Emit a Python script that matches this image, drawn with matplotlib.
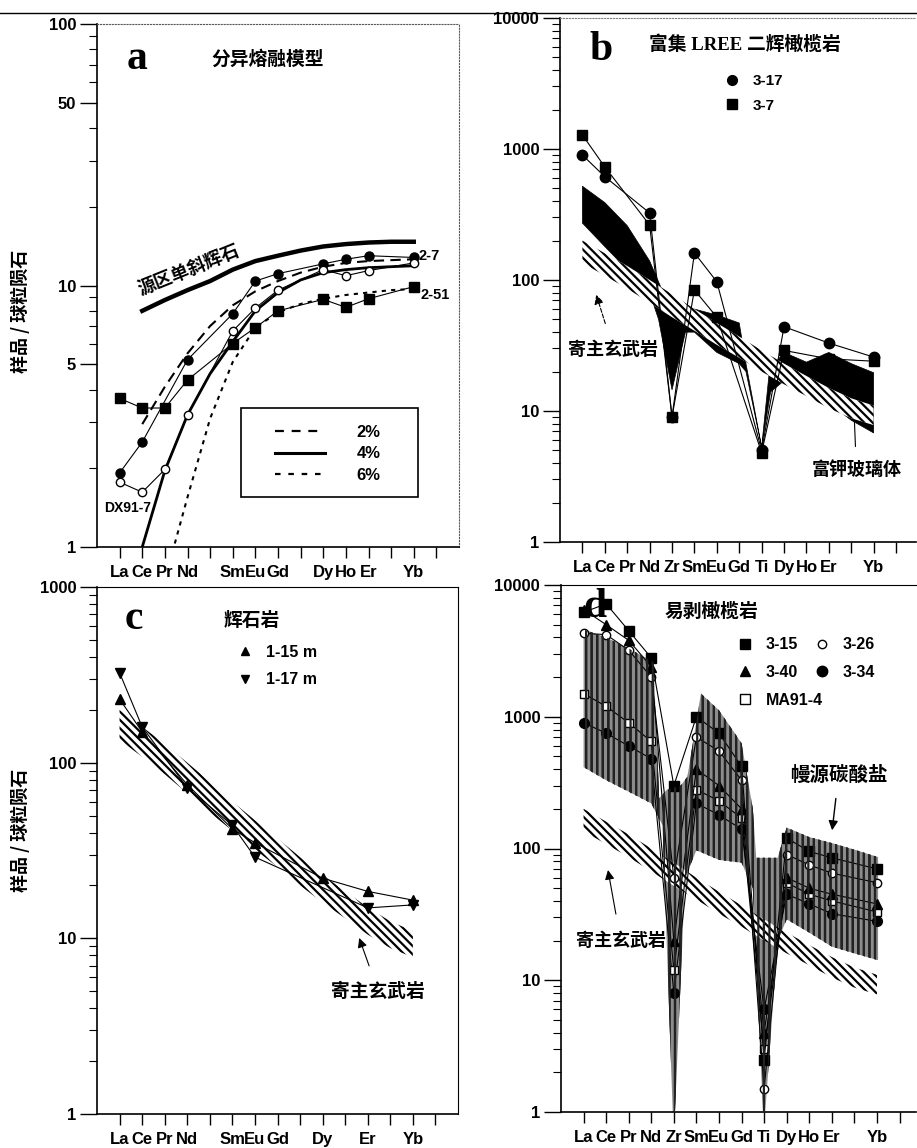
import matplotlib.pyplot as plt
from matplotlib.lines import Line2D
from matplotlib.patches import Rectangle
from matplotlib.ticker import NullFormatter

plt.rcParams['font.family'] = ['Liberation Sans', 'Noto Sans CJK SC', 'DejaVu Sans']
plt.rcParams['font.weight'] = 'bold'
plt.rcParams['hatch.linewidth'] = 1.6
plt.rcParams['hatch.color'] = 'black'

CJK = ['Noto Sans CJK SC', 'DejaVu Sans']
SERIF = ['Liberation Serif', 'Noto Sans CJK SC', 'DejaVu Serif']

# x axis order (one slot per element)
rees = ['La', 'Ce', 'Pr', 'Nd', 'Pm', 'Sm', 'Eu', 'Gd', 'Tb', 'Dy', 'Ho', 'Er', 'Tm', 'Yb', 'Lu']
rees_lab_a = ['La', 'Ce', 'Pr', 'Nd', '', 'Sm', 'Eu', 'Gd', '', 'Dy', 'Ho', 'Er', '', 'Yb', '']
rees_lab_c = ['La', 'Ce', 'Pr', 'Nd', '', 'Sm', 'Eu', 'Gd', '', 'Dy', '', 'Er', '', 'Yb', '']
spider = ['La', 'Ce', 'Pr', 'Nd', 'Zr', 'Sm', 'Eu', 'Gd', 'Ti', 'Dy', 'Ho', 'Er', 'Tm', 'Yb', 'Lu']
spider_lab = ['La', 'Ce', 'Pr', 'Nd', 'Zr', 'Sm', 'Eu', 'Gd', 'Ti', 'Dy', 'Ho', 'Er', '', 'Yb', '']

# --- a: fractional melting model
cpx_el = ['Ce', 'Pr', 'Nd', 'Pm', 'Sm', 'Eu', 'Gd', 'Tb', 'Dy', 'Ho', 'Er', 'Tm', 'Yb']
cpx_val = [8.0, 8.8, 9.6, 10.4, 11.5, 12.4, 13.0, 13.6, 14.1, 14.4, 14.6, 14.7, 14.7]
m2_el = ['Ce', 'Pr', 'Nd', 'Pm', 'Sm', 'Eu', 'Gd', 'Tb', 'Dy', 'Ho', 'Er', 'Tm', 'Yb']
m2_val = [2.95, 4.1, 5.5, 7.0, 8.4, 9.5, 10.4, 11.2, 11.8, 12.2, 12.4, 12.5, 12.6]
m4_el = ['Ce', 'Pr', 'Nd', 'Pm', 'Sm', 'Eu', 'Gd', 'Tb', 'Dy', 'Ho', 'Er', 'Tm', 'Yb']
m4_val = [1.0, 1.96, 3.2, 4.6, 6.1, 8.0, 9.4, 10.5, 11.2, 11.5, 11.7, 11.8, 11.9]
m6_el = ['Pr', 'Nd', 'Pm', 'Sm', 'Eu', 'Gd', 'Tb', 'Dy', 'Ho', 'Er', 'Tm', 'Yb']
m6_val = [0.75, 1.55, 3.1, 5.1, 6.9, 7.9, 8.5, 8.9, 9.2, 9.4, 9.6, 9.7]

s27_el = ['La', 'Ce', 'Nd', 'Sm', 'Eu', 'Gd', 'Dy', 'Ho', 'Er', 'Yb']
s27_val = [1.92, 2.52, 5.2, 7.8, 10.4, 11.1, 12.1, 12.6, 13.0, 12.8]
dx_el = ['La', 'Ce', 'Pr', 'Nd', 'Sm', 'Eu', 'Gd', 'Dy', 'Ho', 'Er', 'Yb']
dx_val = [1.77, 1.62, 1.98, 3.2, 6.7, 8.2, 9.6, 11.5, 10.9, 11.4, 12.2]
s251_el = ['La', 'Ce', 'Pr', 'Nd', 'Sm', 'Eu', 'Gd', 'Dy', 'Ho', 'Er', 'Yb']
s251_val = [3.7, 3.4, 3.4, 4.35, 6.0, 6.9, 8.0, 8.85, 8.25, 8.9, 9.9]

# --- host basalt band (b, c, d)
basalt_el = ['La', 'Ce', 'Pr', 'Nd', 'Pm', 'Sm', 'Eu', 'Gd', 'Tb', 'Dy', 'Ho', 'Er', 'Tm', 'Yb']
basalt_hi = [200, 160, 128, 100, 78, 60, 47, 37, 29, 23, 18.5, 15, 12.5, 11]
basalt_lo = [135, 108, 86, 67, 52, 41, 32, 25.5, 20, 16, 13, 10.5, 8.8, 7.8]

# --- b: LREE-enriched lherzolite
b317_el = ['La', 'Ce', 'Nd', 'Zr', 'Sm', 'Eu', 'Ti', 'Dy', 'Er', 'Yb']
b317_val = [900, 615, 325, 9.0, 161, 97, 5.0, 44, 33, 25.8]
b37_el = ['La', 'Ce', 'Nd', 'Zr', 'Sm', 'Eu', 'Ti', 'Dy', 'Er', 'Yb']
b37_val = [1280, 730, 263, 9.0, 84, 52, 4.8, 29, 25, 24]
# K-rich glass envelope (outline, slot index / value)
glass_x = [0, 1, 2, 3, 3.75, 4, 5, 6, 7, 7.3, 8, 8.35, 9, 10, 11, 12, 13,
           13, 12, 11, 10, 9, 8.4, 8, 7.3, 7, 6, 5, 4.6, 4, 3.4, 3, 2, 1, 0]
glass_y = [520, 390, 260, 140, 70, 62, 60, 54, 47, 23, 5.3, 20.6, 28, 23.6, 28, 23, 19.6,
           6.8, 8.5, 11.5, 13.5, 17, 14, 5.3, 20, 23, 28, 40, 40, 14.5, 50, 80, 120, 180, 272]

# --- c: pyroxenite
c115_el = ['La', 'Ce', 'Nd', 'Sm', 'Eu', 'Dy', 'Er', 'Yb']
c115_val = [230, 150, 75, 42, 35, 22, 18.5, 16.5]
c117_el = ['La', 'Ce', 'Nd', 'Sm', 'Eu', 'Er', 'Yb']
c117_val = [325, 160, 72, 44, 29, 14.9, 15.5]

# --- d: wehrlite
d_el = ['La', 'Ce', 'Pr', 'Nd', 'Zr', 'Sm', 'Eu', 'Gd', 'Ti', 'Dy', 'Ho', 'Er', 'Yb']
d315_val = [6200, 7200, 4500, 2800, 300, 1000, 750, 420, 2.5, 120, 95, 85, 70]
d326_val = [4300, 4200, 3200, 2000, 60, 700, 550, 330, 1.5, 90, 75, 65, 55]
d340_val = [6500, 5000, 3800, 2400, 20, 400, 300, 200, 4, 60, 50, 45, 38]
d334_val = [900, 750, 600, 480, 8, 220, 180, 140, 6, 45, 38, 32, 28]
dma_val = [1500, 1200, 900, 650, 12, 280, 230, 170, 3, 55, 45, 40, 33]
# mantle carbonatite envelope (outline, slot index / value)
carb_x = [0, 1, 2, 3.1, 3.35, 3.7, 4.3, 4.6, 5.2, 6, 7, 7.5, 7.65, 8.6, 9, 10, 11, 12, 13.05,
          13.05, 12, 11, 10, 9, 8.6, 8.05, 7.95, 7.5, 7, 6, 5, 4.5, 4.05, 3.95, 3.5, 3, 2, 1, 0]
carb_y = [4600, 4000, 3300, 2600, 240, 280, 300, 350, 1500, 1120, 630, 200, 85, 85, 144, 122, 110, 98, 86,
          14.2, 16, 18, 23, 29, 20, 1.0, 1.0, 50, 78, 82, 97, 60, 1.0, 1.0, 150, 220, 270, 330, 415]


def xs(names, order):
    return [order.index(n) for n in names]


def setup(ax, labels, ymax, yticks, yminor, xmax):
    ax.set_yscale('log')
    ax.set_ylim(1, ymax)
    ax.set_xlim(-1, xmax)
    ax.set_xticks(range(len(labels)), labels)
    ax.set_yticks(yticks, [str(v) for v in yticks])
    ax.set_yticks(yminor, minor=True)
    ax.yaxis.set_minor_formatter(NullFormatter())
    ax.tick_params(axis='y', which='major', length=12, width=1, pad=3, labelsize=12)
    ax.tick_params(axis='y', which='minor', length=6, width=0.8)
    ax.tick_params(axis='x', which='major', length=8, width=1, pad=5, labelsize=12)
    ax.tick_params(axis='x', which='minor', bottom=False)
    ax.spines['left'].set_linewidth(1.2)
    ax.spines['bottom'].set_linewidth(1.2)


def host_band(ax):
    x = xs(basalt_el, rees)
    ax.fill(x + x[::-1], basalt_hi + basalt_lo[::-1], facecolor='white',
            edgecolor='black', hatch='\\\\\\\\', lw=0, zorder=3)


def minors(decades):
    return [m * 10 ** d for d in range(decades) for m in range(2, 10)]


fig = plt.figure(figsize=(9.17, 11.48), dpi=100)
ax_a = fig.add_axes([97 / 917, 1 - 547 / 1148, 362 / 917, 523 / 1148])
ax_b = fig.add_axes([560 / 917, 1 - 542 / 1148, 356 / 917, 524 / 1148])
ax_c = fig.add_axes([97 / 917, 1 - 1114 / 1148, 361 / 917, 527 / 1148])
ax_d = fig.add_axes([561 / 917, 1 - 1112 / 1148, 355 / 917, 527 / 1148])

# ---------------- a
ax = ax_a
setup(ax, rees_lab_a, 100, [1, 5, 10, 50, 100], [2, 3, 4, 6, 7, 8, 9, 20, 30, 40, 60, 70, 80, 90], 15)
for s in ['top', 'right']:
    ax.spines[s].set_linestyle(':')
    ax.spines[s].set_color('0.35')
ax.plot(xs(cpx_el, rees), cpx_val, color='k', lw=3.2)
ax.plot(xs(m2_el, rees), m2_val, color='k', lw=1.5, ls=(0, (5, 3)))
ax.plot(xs(m4_el, rees), m4_val, color='k', lw=2.0)
ax.plot(xs(m6_el, rees), m6_val, color='k', lw=1.5, ls=(0, (2, 2.5)))
ax.plot(xs(s251_el, rees), s251_val, color='k', lw=0.8, marker='s', ms=6.5, mfc='k')
ax.plot(xs(s27_el, rees), s27_val, color='k', lw=0.8, marker='o', ms=6.5, mfc='k')
ax.plot(xs(dx_el, rees), dx_val, color='k', lw=0.8, marker='o', ms=6, mfc='white')
ax.text(0.110, 0.933, 'a', transform=ax.transAxes, ha='center', va='center',
        fontsize=30, family=SERIF, weight='bold')
ax.text(0.472, 0.933, '分异熔融模型', transform=ax.transAxes, ha='center', va='center',
        fontsize=13.5, family=CJK, weight='bold')
ax.text(3.05, 11.5, '源区单斜辉石', rotation=22, ha='center', va='center',
        fontsize=13, family=CJK, weight='bold')
ax.text(13.67, 12.97, '2-7', ha='center', va='center', fontsize=10.5)
ax.text(13.94, 9.2, '2-51', ha='center', va='center', fontsize=10.5)
ax.text(0.35, 1.41, 'DX91-7', ha='center', va='center', fontsize=10)
ax.add_patch(Rectangle((0.398, 0.0956), 0.489, 0.170, transform=ax.transAxes,
                       fill=False, lw=1.2, zorder=5))
hs = [Line2D([], [], color='k', lw=1.6, ls=(0, (4, 3.5))),
      Line2D([], [], color='k', lw=2.2),
      Line2D([], [], color='k', lw=1.6, ls=(0, (2.5, 3.5)))]
ax.legend(hs, ['2%', '4%', '6%'], loc='center', bbox_to_anchor=(0.637, 0.178),
          frameon=False, handlelength=3.0, handletextpad=1.9, labelspacing=0.4,
          fontsize=12, borderpad=0)

# ---------------- b
ax = ax_b
setup(ax, spider_lab, 10000, [1, 10, 100, 1000, 10000], minors(4), 14.89)
ax.spines['right'].set_visible(False)
ax.spines['top'].set_linestyle(':')
ax.spines['top'].set_color('0.5')
ax.fill(glass_x, glass_y, facecolor='black', edgecolor='black', lw=0.5, zorder=2)
host_band(ax)
ax.plot(xs(b317_el, spider), b317_val, color='k', lw=0.8, marker='o', ms=7.5, zorder=5)
ax.plot(xs(b37_el, spider), b37_val, color='k', lw=0.8, marker='s', ms=7, zorder=5)
ax.text(0.115, 0.939, 'b', transform=ax.transAxes, ha='center', va='center',
        fontsize=30, family=SERIF, weight='bold')
ax.text(0.520, 0.948, '富集 LREE 二辉橄榄岩', transform=ax.transAxes, ha='center', va='center',
        fontsize=13.5, family=SERIF, weight='bold')
ax.legend([Line2D([], [], ls='', marker='o', color='k', ms=7),
           Line2D([], [], ls='', marker='s', color='k', ms=6.5)], ['3-17', '3-7'],
          loc='upper left', bbox_to_anchor=(0.463, 0.893), frameon=False, handlelength=1,
          handletextpad=0.8, labelspacing=0.7, fontsize=11, borderpad=0, borderaxespad=0)
ax.annotate('寄主玄武岩', xy=(0.58, 81), xytext=(1.38, 29.7), ha='center', va='center',
            fontsize=13, family=CJK, weight='bold', zorder=6,
            arrowprops=dict(arrowstyle='-|>', color='k', lw=0.8, ls='--', mutation_scale=14,
                            shrinkA=10))
ax.annotate('富钾玻璃体', xy=(12.14, 8.5), xytext=(12.23, 3.55), ha='center', va='center',
            fontsize=13, family=CJK, weight='bold', zorder=6,
            arrowprops=dict(arrowstyle='-', color='k', lw=0.8, shrinkA=8, shrinkB=0))

# ---------------- c
ax = ax_c
setup(ax, rees_lab_c, 1000, [1, 10, 100, 1000], minors(3), 15)
for s in ['top', 'right']:
    ax.spines[s].set_linewidth(0.8)
host_band(ax)
ax.plot(xs(c117_el, rees), c117_val, color='k', lw=0.8, marker='v', ms=6.5, zorder=5)
ax.plot(xs(c115_el, rees), c115_val, color='k', lw=0.8, marker='^', ms=6.5, zorder=5)
ax.text(0.102, 0.939, 'c', transform=ax.transAxes, ha='center', va='center',
        fontsize=30, family=SERIF, weight='bold')
ax.text(0.429, 0.937, '辉石岩', transform=ax.transAxes, ha='center', va='center',
        fontsize=13.5, family=CJK, weight='bold')
ax.legend([Line2D([], [], ls='', marker='^', color='k', ms=6),
           Line2D([], [], ls='', marker='v', color='k', ms=6)], ['1-15 m', '1-17 m'],
          loc='upper left', bbox_to_anchor=(0.388, 0.890), frameon=False, handlelength=1,
          handletextpad=0.8, labelspacing=0.76, fontsize=11.5, borderpad=0, borderaxespad=0)
ax.annotate('寄主玄武岩', xy=(10.58, 10.4), xytext=(11.46, 5.0), ha='center', va='center',
            fontsize=13.5, family=CJK, weight='bold', zorder=6,
            arrowprops=dict(arrowstyle='-|>', color='k', lw=0.8, mutation_scale=14, shrinkA=10))
fig.text(20 / 917, 1 - 311 / 1148, '样品 / 球粒陨石', rotation=90, ha='center', va='center',
         fontsize=13, family=CJK, weight='bold')
fig.text(20 / 917, 1 - 830 / 1148, '样品 / 球粒陨石', rotation=90, ha='center', va='center',
         fontsize=13, family=CJK, weight='bold')

# ---------------- d
ax = ax_d
setup(ax, spider_lab, 10000, [1, 10, 100, 1000, 10000], minors(4), 14.73)
ax.spines['right'].set_visible(False)
ax.spines['top'].set_linewidth(0.8)
ax.text(0.096, 0.958, 'd', transform=ax.transAxes, ha='center', va='center',
        fontsize=30, family=SERIF, weight='bold', zorder=1)
ax.fill(carb_x, carb_y, facecolor='#8c8c8c', edgecolor='#111111', hatch='|||', lw=0, zorder=2)
xd = xs(d_el, spider)
ax.plot(xd, d334_val, color='k', lw=0.8, marker='o', ms=7, zorder=4)
ax.plot(xd, dma_val, color='k', lw=0.8, marker='s', ms=6, mfc='white', zorder=4)
ax.plot(xd, d340_val, color='k', lw=0.8, marker='^', ms=6.5, zorder=4)
ax.plot(xd, d326_val, color='k', lw=0.8, marker='o', ms=6, mfc='white', zorder=4)
ax.plot(xd, d315_val, color='k', lw=0.8, marker='s', ms=7, zorder=4)
ax.fill(carb_x, carb_y, facecolor='none', edgecolor='#222222', hatch='|||', lw=0, zorder=4.5)
host_band(ax)
ax.text(0.425, 0.949, '易剥橄榄岩', transform=ax.transAxes, ha='center', va='center',
        fontsize=13.5, family=CJK, weight='bold', zorder=6)
leg1 = ax.legend([Line2D([], [], ls='', marker='s', color='k', ms=7),
                  Line2D([], [], ls='', marker='^', color='k', ms=6.5),
                  Line2D([], [], ls='', marker='s', color='k', mfc='white', ms=6.5)],
                 ['3-15', '3-40', 'MA91-4'], loc='upper left', bbox_to_anchor=(0.496, 0.901),
                 frameon=False, handlelength=1, handletextpad=0.8, labelspacing=0.8,
                 fontsize=11.5, borderpad=0, borderaxespad=0)
ax.add_artist(leg1)
ax.legend([Line2D([], [], ls='', marker='o', color='k', mfc='white', ms=6),
           Line2D([], [], ls='', marker='o', color='k', ms=7.5)],
          ['3-26', '3-34'], loc='upper left', bbox_to_anchor=(0.713, 0.901),
          frameon=False, handlelength=1, handletextpad=0.8, labelspacing=0.8,
          fontsize=11.5, borderpad=0, borderaxespad=0)
ax.annotate('寄主玄武岩', xy=(1.06, 72), xytext=(1.64, 20.2), ha='center', va='center',
            fontsize=13, family=CJK, weight='bold', zorder=6,
            arrowprops=dict(arrowstyle='-|>', color='k', lw=0.8, mutation_scale=14, shrinkA=10))
ax.annotate('幔源碳酸盐', xy=(11.0, 131), xytext=(11.3, 361), ha='center', va='center',
            fontsize=14, family=CJK, weight='bold', zorder=6,
            arrowprops=dict(arrowstyle='-|>', color='k', lw=1.0, mutation_scale=14, shrinkA=8))

# scan header rule
fig.add_artist(Line2D([0, 1], [1 - 13 / 1148] * 2, transform=fig.transFigure, color='k', lw=1))

fig.savefig('out.png', dpi=100)
